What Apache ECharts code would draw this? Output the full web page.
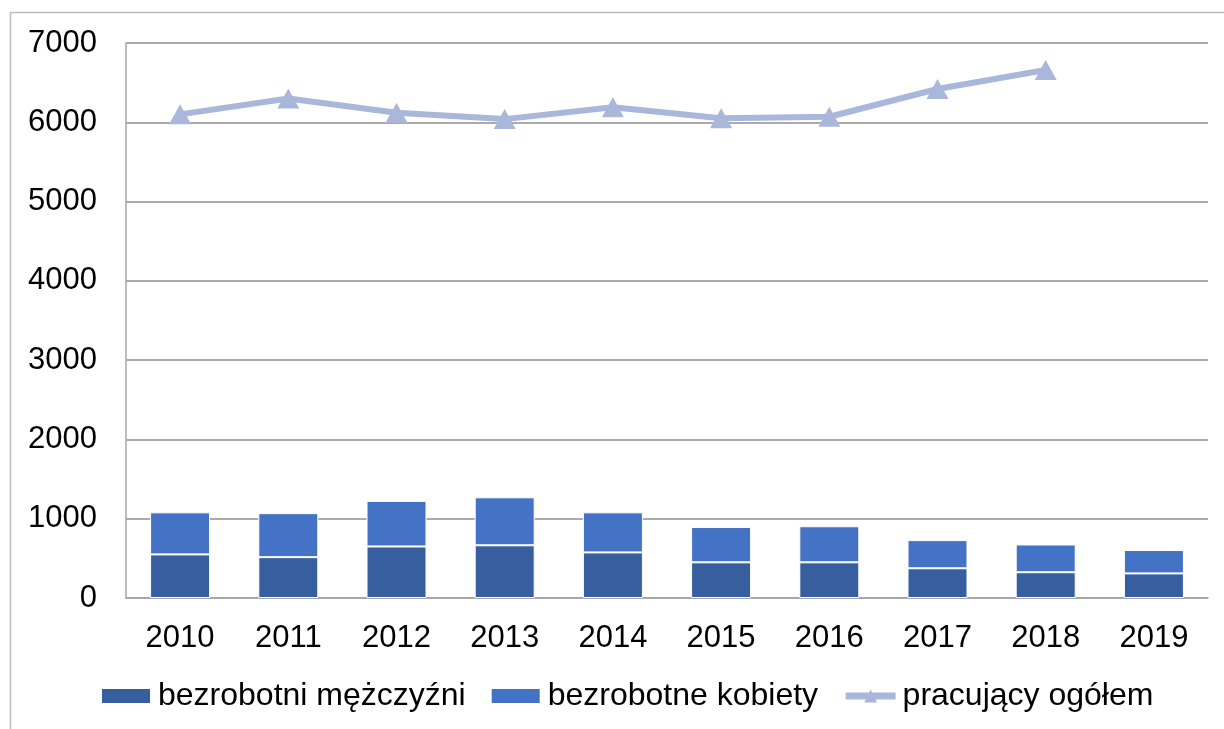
<!DOCTYPE html>
<html lang="pl">
<head>
    <meta charset="UTF-8">
    <title>Bezrobotni i pracujący</title>
    <script src="https://cdn.jsdelivr.net/npm/echarts@6/dist/echarts.min.js"></script>
    <style>
        html, body { margin: 0; padding: 0; background: #fff; }
    </style>
</head>
<body>
    <div id="main" style="width: 1224px; height: 729px;"></div>
    <script>
        const years = ["2010", "2011", "2012", "2013", "2014", "2015", "2016", "2017", "2018", "2019"];
        const men = [550, 515, 650, 665, 575, 450, 450, 375, 325, 310];
        const women = [530, 555, 575, 605, 505, 445, 455, 355, 350, 295];
        const employed = [6100, 6300, 6120, 6040, 6190, 6050, 6070, 6420, 6660, null];
        const yTicks = [0, 7000, 1000];

        const font = "Liberation Sans, Arial, sans-serif";
        const charts = echarts.init(document.getElementById("main"));
        const option = {
            animation: false,
            textStyle: { fontFamily: font },
            grid: { left: 126, right: 16, top: 43, bottom: 131 },
            graphic: [{
                type: "rect",
                shape: { x: 10.5, y: 12.5, width: 1300, height: 800 },
                style: { fill: "none", stroke: "#bdbdbd", lineWidth: 1.5 }
            }],
            legend: {
                left: 100,
                top: 680,
                padding: 0,
                itemWidth: 50,
                itemHeight: 16,
                itemGap: 24,
                textStyle: { fontSize: 32, color: "#000", fontFamily: font, padding: [0, 0, 0, 2] },
                data: [
                    { name: "bezrobotni mężczyźni", icon: "rect" },
                    { name: "bezrobotne kobiety", icon: "rect" },
                    { name: "pracujący ogółem", lineStyle: { width: 7 } }
                ]
            },
            xAxis: {
                type: "category",
                data: years,
                axisLine: { lineStyle: { color: "#a6a6a6", width: 1.5 } },
                axisTick: { show: false },
                axisLabel: { fontSize: 31, color: "#000", margin: 25 }
            },
            yAxis: {
                type: "value",
                min: yTicks[0],
                max: yTicks[1],
                interval: yTicks[2],
                axisLine: { show: true, lineStyle: { color: "#a6a6a6", width: 1.5 } },
                axisTick: { show: false },
                splitLine: { lineStyle: { color: "#8f8f8f", width: 1.5 } },
                axisLabel: { fontSize: 31, color: "#000", margin: 29, formatter: v => String(v) }
            },
            series: [{
                name: "bezrobotni mężczyźni",
                type: "bar",
                stack: "bezrobotni",
                barWidth: 60,
                itemStyle: { color: "#375FA0", borderColor: "#fff", borderWidth: 1 },
                data: men
            }, {
                name: "bezrobotne kobiety",
                type: "bar",
                stack: "bezrobotni",
                barWidth: 60,
                itemStyle: { color: "#4472C4", borderColor: "#fff", borderWidth: 1 },
                data: women
            }, {
                name: "pracujący ogółem",
                type: "line",
                symbol: "triangle",
                symbolSize: [22, 20],
                lineStyle: { color: "#A9B7DB", width: 6 },
                itemStyle: { color: "#A9B7DB" },
                data: employed
            }]
        };
        charts.setOption(option);
    </script>
</body>
</html>
